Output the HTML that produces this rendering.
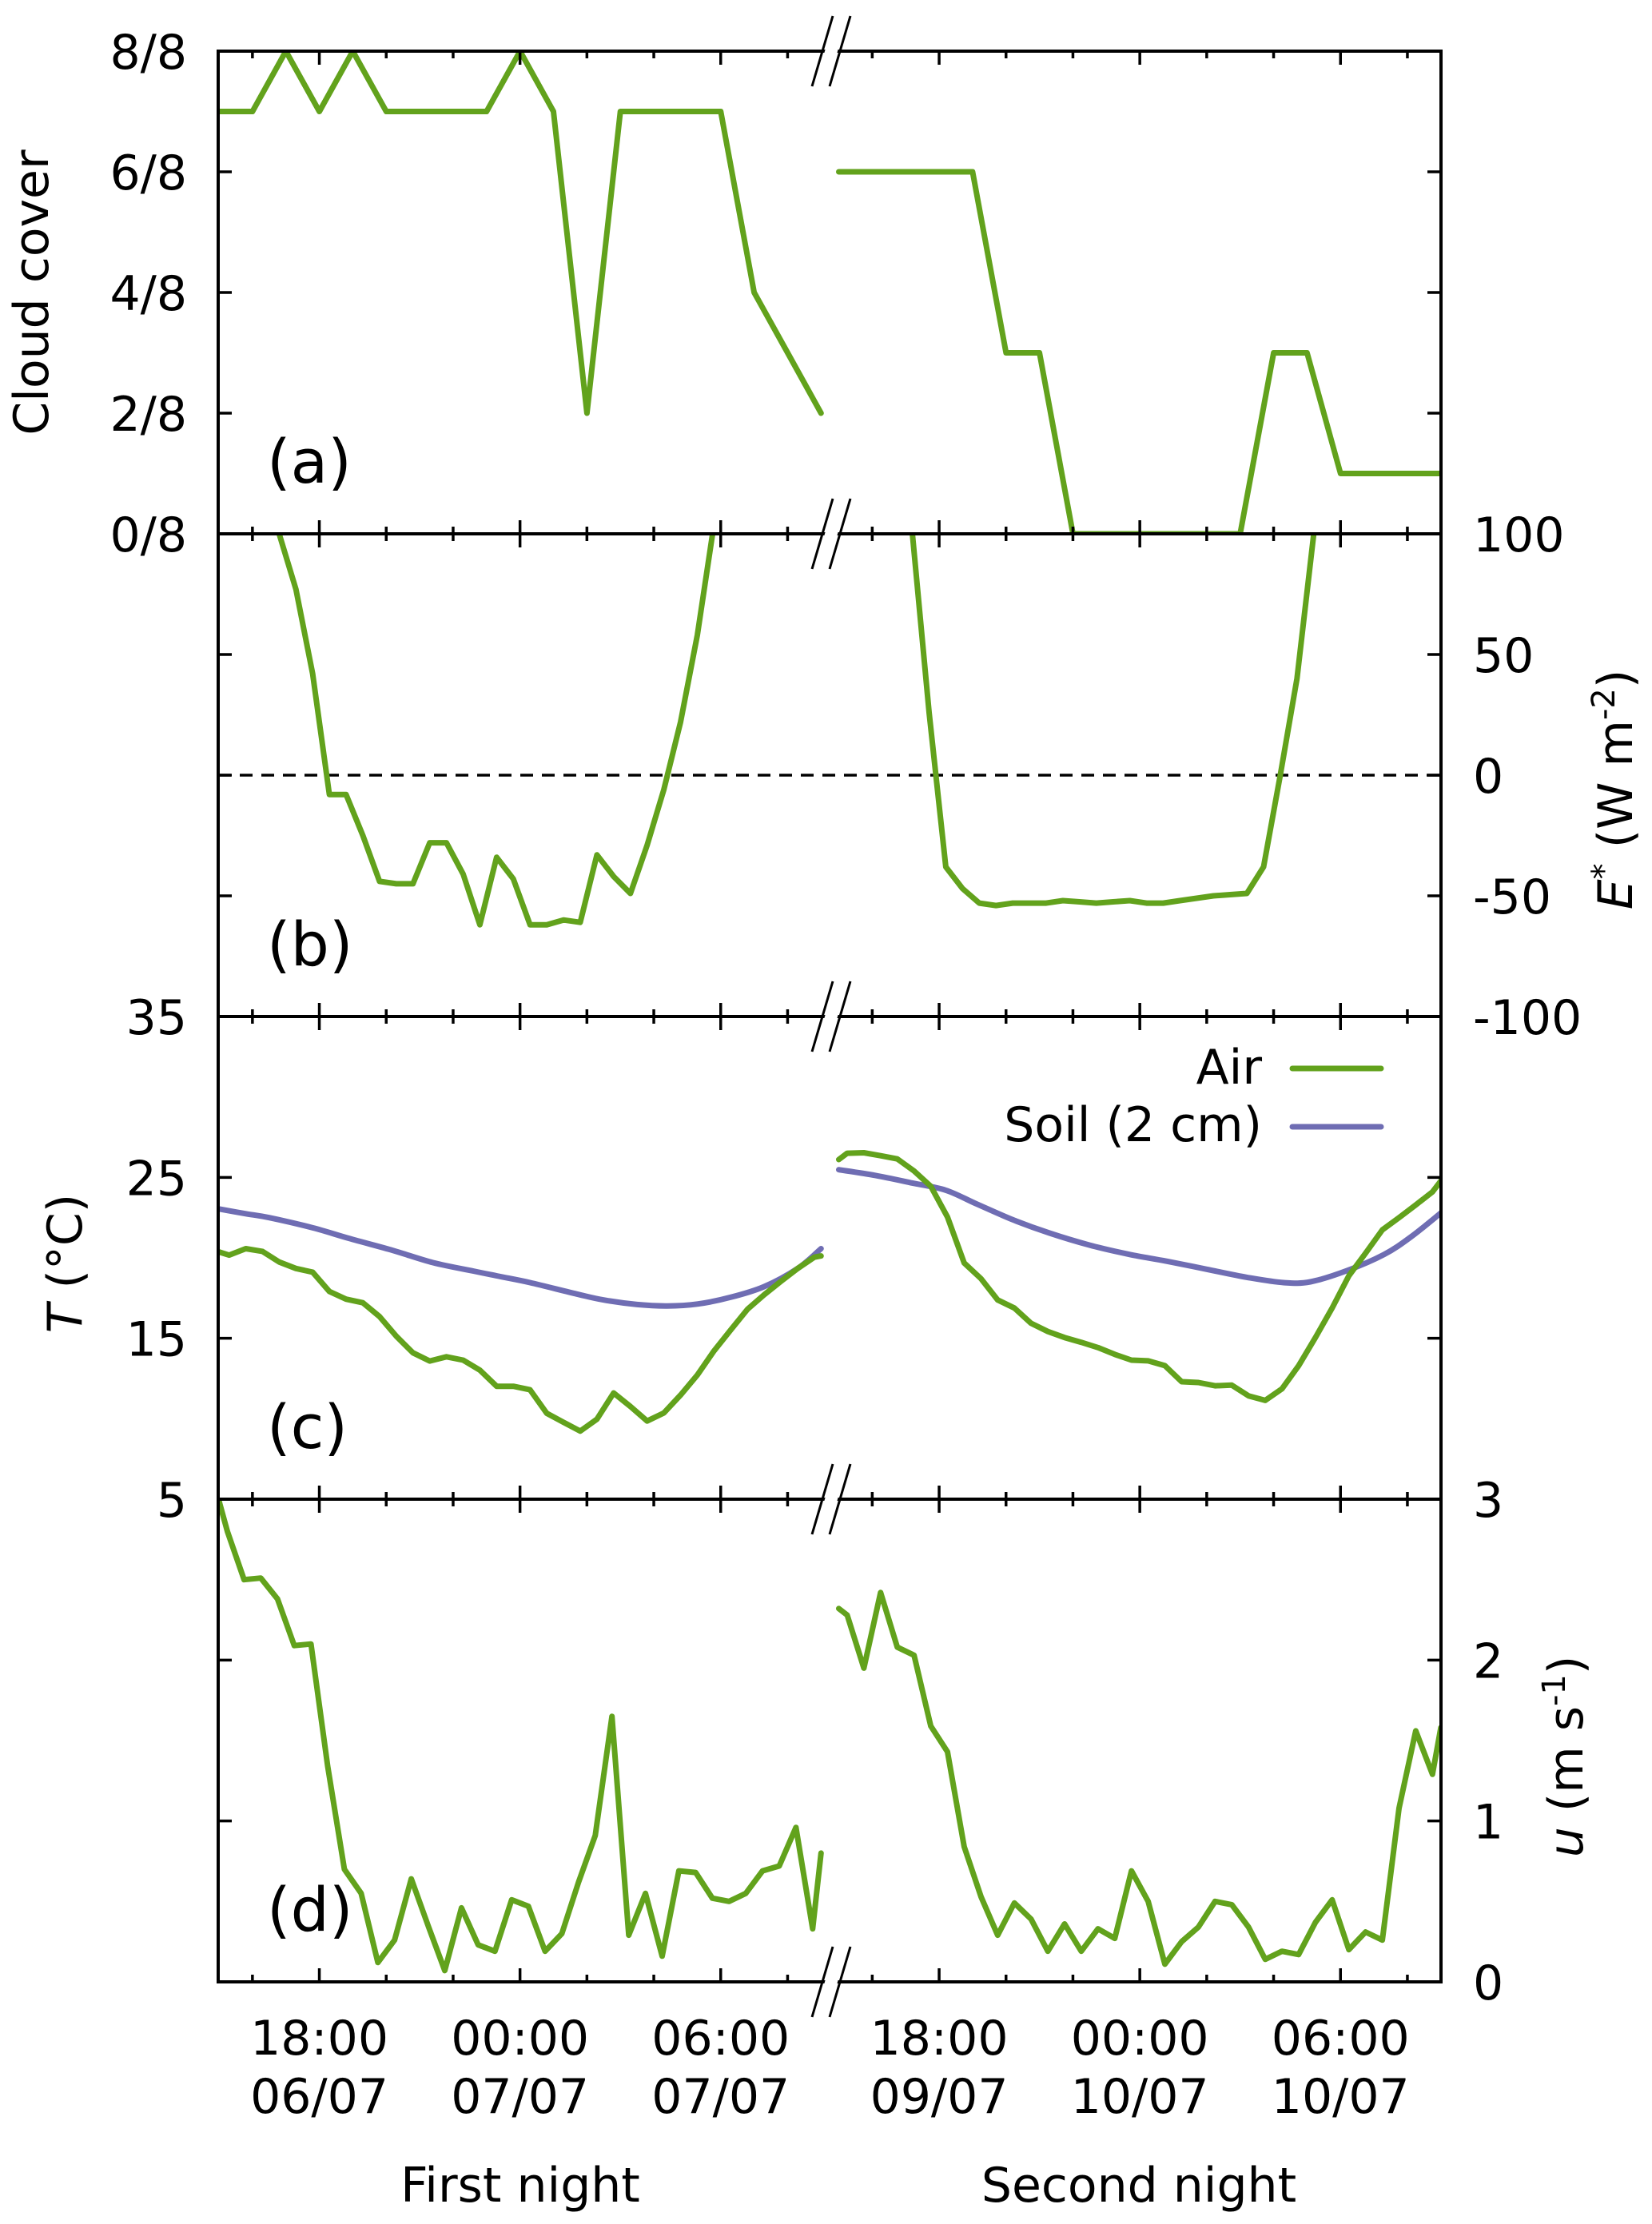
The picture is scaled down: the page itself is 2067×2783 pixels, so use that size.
<!DOCTYPE html>
<html>
<head>
<meta charset="utf-8">
<style>
html,body{margin:0;padding:0;background:#fff;}
svg{display:block;}
text{font-family:"DejaVu Sans","Liberation Sans",sans-serif;font-size:60px;fill:#000;}
.plab{font-size:76px;}
</style>
</head>
<body>
<svg id="chart" width="2067" height="2783" viewBox="0 0 2067 2783" xmlns="http://www.w3.org/2000/svg">
  <defs>
    <clipPath id="clipA"><rect x="273" y="64" width="1530" height="604"/></clipPath>
    <clipPath id="clipB"><rect x="273" y="668" width="1530" height="604"/></clipPath>
    <clipPath id="clipC"><rect x="273" y="1272" width="1530" height="604"/></clipPath>
    <clipPath id="clipD"><rect x="273" y="1876" width="1530" height="604"/></clipPath>
  </defs>
  <g id="grid"></g>
  <g id="series"></g>
  <g id="frame"></g>
  <g id="labels">
    <text transform="translate(60,366) rotate(-90)" text-anchor="middle">Cloud cover</text>
    <text transform="translate(102,1581) rotate(-90)" text-anchor="middle"><tspan font-style="italic">T</tspan> (°C)</text>
    <text transform="translate(2042,988) rotate(-90)" text-anchor="middle"><tspan font-style="italic">E</tspan><tspan font-size="40" dy="-22">*</tspan><tspan dy="22"> (W m</tspan><tspan font-size="40" dy="-22">-2</tspan><tspan dy="22">)</tspan></text>
    <text transform="translate(1980,2198) rotate(-90)" text-anchor="middle"><tspan font-style="italic">u</tspan> (m s<tspan font-size="40" dy="-22">-1</tspan><tspan dy="22">)</tspan></text>
    <text class="plab" x="334" y="604">(a)</text>
    <text class="plab" x="334" y="1208">(b)</text>
    <text class="plab" x="334" y="1812">(c)</text>
    <text class="plab" x="334" y="2416">(d)</text>
    <text x="651" y="2755" text-anchor="middle">First night</text>
    <text x="1425" y="2755" text-anchor="middle">Second night</text>
    <text x="1579" y="1356" text-anchor="end">Air</text>
    <line x1="1617" y1="1337" x2="1728" y2="1337" stroke="#62a21c" stroke-width="7" stroke-linecap="round"/>
    <text x="1579" y="1428" text-anchor="end">Soil (2 cm)</text>
    <line x1="1617" y1="1410" x2="1728" y2="1410" stroke="#6f6db3" stroke-width="7" stroke-linecap="round"/>
  </g>
</svg>
<script>
// ---- data ----
const cloudHours1 = [0,1,2,3,4,5,6,7,8,9,10,11,12,13,14,15,16,17,18];
const cloud1 = [7,7,8,7,8,7,7,7,7,8,7,2,7,7,7,7,4,3,2];
const cloudHours2 = [0,1,2,3,4,5,6,7,8,9,10,11,12,13,14,15,16,17,18];
const cloud2 = [6,6,6,6,6,3,3,0,0,0,0,0,0,3,3,1,1,1,1];

const eHours1 = [1.8,2.3,2.8,3.3,3.8,4.3,4.8,5.3,5.8,6.3,6.8,7.3,7.8,8.3,8.8,9.3,9.8,10.3,10.8,11.3,11.8,12.3,12.8,13.3,13.8,14.3,14.8];
const eStar1 = [100,77,42,-8,-8,-25,-44,-45,-45,-28,-28,-41,-62,-34,-43,-62,-62,-60,-61,-33,-42,-49,-29,-6,22,58,104];
const eHours2 = [2.2,2.7,3.2,3.7,4.2,4.7,5.2,5.7,6.2,6.7,7.2,7.7,8.2,8.7,9.2,9.7,10.2,10.7,11.2,11.7,12.2,12.7,13.2,13.7,14.2];
const eStar2 = [100,26,-38,-47,-53,-54,-53,-53,-53,-52,-52.5,-53,-52.5,-52,-53,-53,-52,-51,-50,-49.5,-49,-38,0,40,100];

const airHours1 = [0,0.3,0.8,1.3,1.8,2.3,2.8,3.3,3.8,4.3,4.8,5.3,5.8,6.3,6.8,7.3,7.8,8.3,8.8,9.3,9.8,10.3,10.8,11.3,11.8,12.3,12.8,13.3,13.8,14.3,14.8,15.3,15.8,16.3,16.8,17.3,17.8,18.0];
const air1 = [20.37,20.17,20.57,20.4,19.74,19.34,19.11,17.91,17.43,17.21,16.35,15.13,14.1,13.59,13.85,13.64,13.02,12.02,12.02,11.8,10.34,9.78,9.23,9.97,11.6,10.76,9.86,10.36,11.47,12.72,14.22,15.52,16.8,17.71,18.54,19.34,20.04,20.12];
const soilHours1 = [0,0.8,1.5,2.8,3.9,5.2,6.4,7.6,8.3,9.3,10.7,11.5,12.5,13.4,14.3,15.3,16.3,17.3,18.0];
const soil1 = [23.04,22.74,22.5,21.87,21.2,20.46,19.7,19.18,18.88,18.46,17.75,17.38,17.1,17.01,17.13,17.55,18.21,19.34,20.57];
const airHours2 = [0,0.25,0.75,1.25,1.75,2.25,2.75,3.25,3.75,4.25,4.75,5.25,5.75,6.25,6.75,7.25,7.75,8.25,8.75,9.25,9.75,10.25,10.75,11.25,11.75,12.25,12.75,13.25,13.75,14.25,14.75,15.25,15.75,16.25,16.75,17.25,17.75,18.0];
const air2 = [26.11,26.5,26.53,26.35,26.15,25.4,24.45,22.54,19.68,18.71,17.38,16.88,15.93,15.42,15.05,14.75,14.42,14.0,13.64,13.6,13.3,12.3,12.25,12.05,12.09,11.42,11.14,11.86,13.3,15.05,16.88,18.88,20.29,21.74,22.5,23.29,24.1,24.78];
const soilHours2 = [0,1.1,2.2,3.2,4.1,5.2,6.3,7.5,8.7,9.8,11.0,12.2,13.3,14.1,15.2,16.3,17.1,18.0];
const soil2 = [25.48,25.12,24.65,24.2,23.37,22.37,21.54,20.79,20.21,19.79,19.29,18.79,18.46,18.51,19.21,20.21,21.29,22.79];

const uHours1 = [0,0.25,0.75,1.25,1.75,2.25,2.75,3.25,3.75,4.25,4.75,5.25,5.75,6.25,6.75,7.25,7.75,8.25,8.75,9.25,9.75,10.25,10.75,11.25,11.75,12.25,12.75,13.25,13.75,14.25,14.75,15.25,15.75,16.25,16.75,17.25,17.75,18.0];
const u1 = [2.99,2.8,2.5,2.51,2.38,2.09,2.10,1.34,0.70,0.55,0.12,0.26,0.64,0.35,0.07,0.46,0.23,0.19,0.51,0.47,0.19,0.30,0.62,0.91,1.65,0.29,0.55,0.16,0.69,0.68,0.52,0.50,0.55,0.69,0.72,0.96,0.33,0.80];
const uHours2 = [0,0.25,0.75,1.25,1.75,2.25,2.75,3.25,3.75,4.25,4.75,5.25,5.75,6.25,6.75,7.25,7.75,8.25,8.75,9.25,9.75,10.25,10.75,11.25,11.75,12.25,12.75,13.25,13.75,14.25,14.75,15.25,15.75,16.25,16.75,17.25,17.75,18.0];
const u2 = [2.32,2.28,1.95,2.42,2.08,2.03,1.59,1.43,0.84,0.53,0.29,0.49,0.39,0.19,0.36,0.19,0.33,0.27,0.69,0.50,0.11,0.25,0.34,0.50,0.48,0.34,0.14,0.19,0.17,0.37,0.51,0.20,0.31,0.26,1.08,1.56,1.29,1.58];

const cloudTicks = [0,2,4,6,8];
const cloudTickLabels = ["0/8","2/8","4/8","6/8","8/8"];
const eTicks = [-100,-50,0,50,100];
const tTicks = [5,15,25,35];
const uTicks = [0,1,2,3];
const xMajorHours = [3,9,15];
const xMinorHours = [1,5,7,11,13,17];
const xTimeLabels = ["18:00","00:00","06:00"];
const xDateLabels1 = ["06/07","07/07","07/07"];
const xDateLabels2 = ["09/07","10/07","10/07"];

// ---- geometry ----
const NS = "http://www.w3.org/2000/svg";
const L = 273, R = 1803, PH = 604;
const tops = [64, 668, 1272, 1876];
const HOUR = 41.85, X0_1 = 274, X0_2 = 1049.5;
function xAt(night, h){ return (night === 1 ? X0_1 : X0_2) + h * HOUR; }
function yCloud(v){ return tops[0] + PH - v / 8 * PH; }
function yE(v){ return tops[1] + PH / 2 - v / 200 * PH; }
function yT(v){ return tops[2] + PH - (v - 5) / 30 * PH; }
function yU(v){ return tops[3] + PH - v / 3 * PH; }
const GREEN = "#62a21c", PURPLE = "#6f6db3";

const grid = document.getElementById('grid');
const series = document.getElementById('series');
const frame = document.getElementById('frame');
const labels = document.getElementById('labels');

function mk(tag, attrs, parent){
  const el = document.createElementNS(NS, tag);
  for (const k in attrs) el.setAttribute(k, attrs[k]);
  parent.appendChild(el);
  return el;
}

function drawLine(night, hours, vals, yf, color, clip, name, smooth){
  const pts = hours.map((h, i) => [xAt(night, h), yf(vals[i])]);
  let d = "M " + pts[0][0].toFixed(1) + " " + pts[0][1].toFixed(1);
  for (let i = 1; i < pts.length; i++){
    if (smooth){
      const p0 = pts[Math.max(0, i - 2)], p1 = pts[i - 1], p2 = pts[i], p3 = pts[Math.min(pts.length - 1, i + 1)];
      const c1x = p1[0] + (p2[0] - p0[0]) / 6, c1y = p1[1] + (p2[1] - p0[1]) / 6;
      const c2x = p2[0] - (p3[0] - p1[0]) / 6, c2y = p2[1] - (p3[1] - p1[1]) / 6;
      d += " C " + c1x.toFixed(1) + " " + c1y.toFixed(1) + " " + c2x.toFixed(1) + " " + c2y.toFixed(1) + " " + p2[0].toFixed(1) + " " + p2[1].toFixed(1);
    } else {
      d += " L " + pts[i][0].toFixed(1) + " " + pts[i][1].toFixed(1);
    }
  }
  const p = mk('path', {d: d, fill: "none", stroke: color, "stroke-width": 7, "stroke-linejoin": "round", "stroke-linecap": "round", "clip-path": "url(#" + clip + ")"}, series);
  
  
}

// dashed zero line
const zl = mk('line', {x1: L, x2: R, y1: yE(0), y2: yE(0), stroke: "#000", "stroke-width": 3.5, "stroke-dasharray": "16 11"}, grid);



drawLine(1, cloudHours1, cloud1, yCloud, GREEN, "clipA", "cloud-cover-night1", false);
drawLine(2, cloudHours2, cloud2, yCloud, GREEN, "clipA", "cloud-cover-night2", false);
drawLine(1, eHours1, eStar1, yE, GREEN, "clipB", "net-radiation-night1", false);
drawLine(2, eHours2, eStar2, yE, GREEN, "clipB", "net-radiation-night2", false);
drawLine(1, soilHours1, soil1, yT, PURPLE, "clipC", "soil-temp-night1", true);
drawLine(1, airHours1, air1, yT, GREEN, "clipC", "air-temp-night1", false);
drawLine(2, soilHours2, soil2, yT, PURPLE, "clipC", "soil-temp-night2", true);
drawLine(2, airHours2, air2, yT, GREEN, "clipC", "air-temp-night2", false);
drawLine(1, uHours1, u1, yU, GREEN, "clipD", "wind-speed-night1", false);
drawLine(2, uHours2, u2, yU, GREEN, "clipD", "wind-speed-night2", false);

// frame
const hLines = [64, 668, 1272, 1876, 2480];
for (let i = 0; i < hLines.length; i++){
  const ln = mk('line', {x1: L - 2, x2: R + 2, y1: hLines[i], y2: hLines[i], stroke: "#000", "stroke-width": 4}, frame);
  
  
}
for (const xv of [L, R]){
  const ln = mk('line', {x1: xv, x2: xv, y1: 64, y2: 2480, stroke: "#000", "stroke-width": 4}, frame);
  
  
}

// x ticks
function xTick(x, y, len, dir){
  const t = mk('line', {x1: x, x2: x, y1: y, y2: y + dir * len, stroke: "#000", "stroke-width": 3.5}, frame);
  
  
}
for (let i = 0; i < hLines.length; i++){
  const y = hLines[i];
  const dirs = [];
  if (i > 0) dirs.push(-1);
  if (i < hLines.length - 1) dirs.push(1);
  for (const night of [1, 2]){
    for (const h of xMajorHours) for (const d of dirs) xTick(xAt(night, h), y, 17, d);
    for (const h of xMinorHours) for (const d of dirs) xTick(xAt(night, h), y, 9, d);
  }
}

// y ticks
function yTicks(vals, yf){
  for (const v of vals){
    const y = yf(v);
    const a = mk('line', {x1: L, x2: L + 17, y1: y, y2: y, stroke: "#000", "stroke-width": 3.5}, frame);
    
    
    const b = mk('line', {x1: R, x2: R - 17, y1: y, y2: y, stroke: "#000", "stroke-width": 3.5}, frame);
    
    
  }
}
yTicks(cloudTicks, yCloud);
yTicks(eTicks, yE);
yTicks(tTicks, yT);
yTicks(uTicks, yU);

// break marks
for (const y of hLines){
  const gap = mk('polygon', {points: (1016+3)+","+(y+44)+" "+(1042+3)+","+(y-44)+" "+(1064-3)+","+(y-44)+" "+(1038-3)+","+(y+44), fill: "#fff"}, frame);
  
  
  for (const dx of [0, 22]){
    const bl = mk('line', {x1: 1016 + dx, y1: y + 44, x2: 1042 + dx, y2: y - 44, stroke: "#000", "stroke-width": 3}, frame);
    
    
  }
}

// tick labels
function label(txt, x, y, anchor, name){
  const t = mk('text', {x: x, y: y, "text-anchor": anchor}, labels);
  t.textContent = txt;
  
  
}
for (let i = 0; i < cloudTicks.length; i++) label(cloudTickLabels[i], 234, yCloud(cloudTicks[i]) + 22, "end", "y-tick-label-cloud");
for (const v of eTicks) label(String(v), 1843, yE(v) + 22, "start", "y-tick-label-energy");
for (const v of tTicks) label(String(v), 234, yT(v) + 22, "end", "y-tick-label-temperature");
for (const v of uTicks) label(String(v), 1843, yU(v) + 22, "start", "y-tick-label-wind");
for (let i = 0; i < xMajorHours.length; i++){
  label(xTimeLabels[i], xAt(1, xMajorHours[i]), 2571, "middle", "x-tick-label-time");
  label(xDateLabels1[i], xAt(1, xMajorHours[i]), 2644, "middle", "x-tick-label-date");
  label(xTimeLabels[i], xAt(2, xMajorHours[i]), 2571, "middle", "x-tick-label-time");
  label(xDateLabels2[i], xAt(2, xMajorHours[i]), 2644, "middle", "x-tick-label-date");
}
</script>
</body>
</html>
